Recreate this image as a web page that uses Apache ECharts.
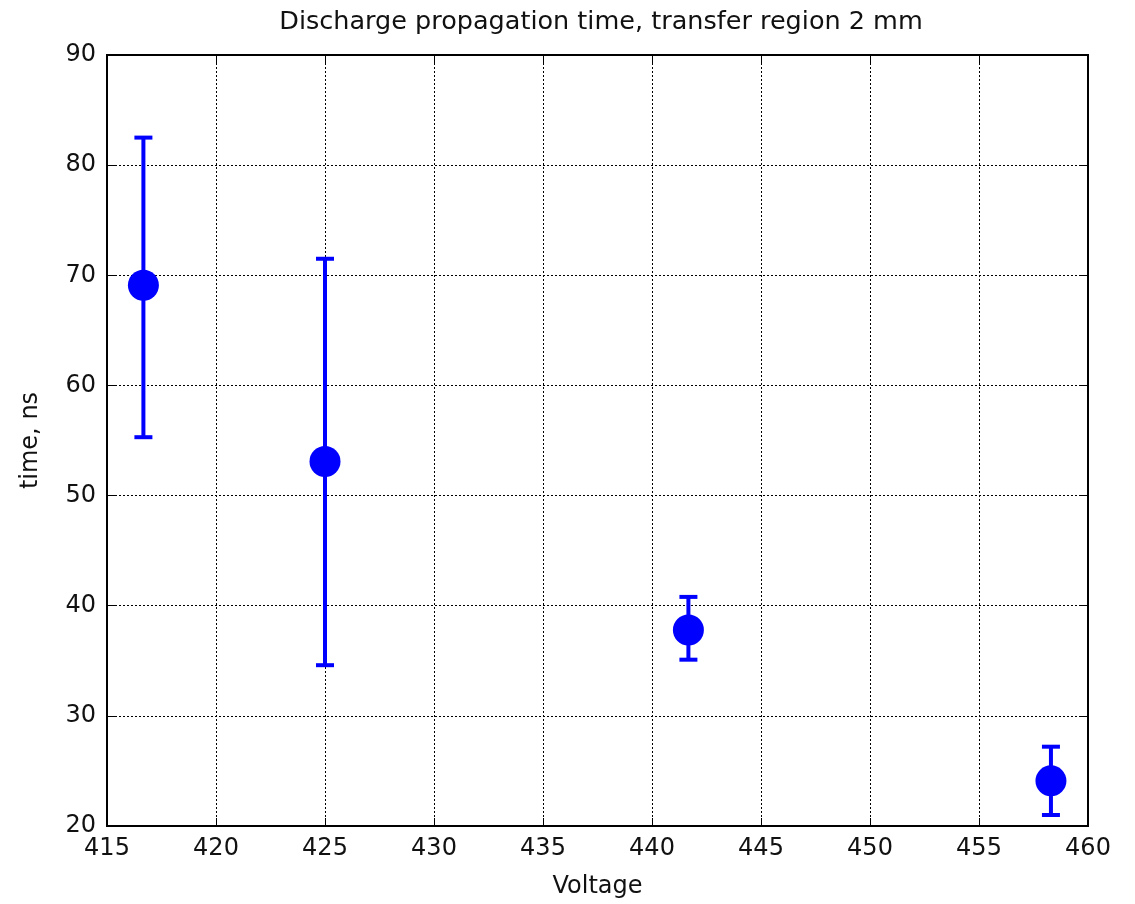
<!DOCTYPE html>
<html>
<head>
<meta charset="utf-8">
<script src="https://cdn.jsdelivr.net/npm/echarts@6/dist/echarts.min.js"></script>
<style>html,body{margin:0;padding:0;background:#fff}#c{width:1135px;height:904px}</style>
</head>
<body>
<div id="c"></div>
<script>
const voltage = [416.67, 425.0, 441.67, 458.3];
const timeNs = [69.1, 53.1, 37.8, 24.1];
const errLow = [55.3, 34.6, 35.1, 21.0];
const errHigh = [82.5, 71.5, 40.8, 27.2];
const xTicks = [415, 420, 425, 430, 435, 440, 445, 450, 455, 460];
const yTicks = [20, 30, 40, 50, 60, 70, 80, 90];

const chart = echarts.init(document.getElementById('c'));
const font = 'DejaVu Sans, sans-serif';
const pts = voltage.map((v, i) => [v, timeNs[i]]);
const errs = voltage.map((v, i) => [v, errLow[i], errHigh[i]]);

chart.setOption({
  animation: false,
  backgroundColor: '#fff',
  title: {
    text: 'Discharge propagation time, transfer region 2 mm',
    left: 596, top: 4, textAlign: 'center',
    textStyle: { fontFamily: font, fontSize: 25.5, fontWeight: 'normal', color: '#111' }
  },
  grid: { left: 107, right: 47, top: 55, bottom: 77, show: true, borderColor: '#000', borderWidth: 2, backgroundColor: 'transparent' },
  xAxis: [{
    type: 'value', min: xTicks[0], max: xTicks[xTicks.length - 1], interval: 5,
    name: 'Voltage', nameLocation: 'middle', nameGap: 49,
    nameTextStyle: { fontFamily: font, fontSize: 24, color: '#111' },
    axisLine: { show: true, lineStyle: { color: '#000', width: 2 } },
    axisTick: { show: true, inside: true, length: 8, lineStyle: { color: '#000', width: 1 } },
    axisLabel: { fontFamily: font, fontSize: 24, color: '#111', margin: 11 },
    splitLine: { show: true, lineStyle: { color: '#000', type: [2, 2], width: 1 } }
  }, {
    type: 'value', position: 'top', min: xTicks[0], max: xTicks[xTicks.length - 1], interval: 5,
    axisLine: { show: true, lineStyle: { color: '#000', width: 2 } },
    axisTick: { show: true, inside: true, length: 8, lineStyle: { color: '#000', width: 1 } },
    axisLabel: { show: false }, splitLine: { show: false }
  }],
  yAxis: [{
    type: 'value', min: yTicks[0], max: yTicks[yTicks.length - 1], interval: 10,
    name: 'time, ns', nameLocation: 'middle', nameGap: 64, nameRotate: 90,
    nameTextStyle: { fontFamily: font, fontSize: 24, color: '#111' },
    axisLine: { show: true, lineStyle: { color: '#000', width: 2 } },
    axisTick: { show: true, inside: true, length: 8, lineStyle: { color: '#000', width: 1 } },
    axisLabel: { fontFamily: font, fontSize: 24, color: '#111', margin: 11 },
    splitLine: { show: true, lineStyle: { color: '#000', type: [2, 2], width: 1 } }
  }, {
    type: 'value', position: 'right', min: yTicks[0], max: yTicks[yTicks.length - 1], interval: 10,
    axisLine: { show: true, lineStyle: { color: '#000', width: 2 } },
    axisTick: { show: true, inside: true, length: 8, lineStyle: { color: '#000', width: 1 } },
    axisLabel: { show: false }, splitLine: { show: false }
  }],
  series: [{
    type: 'custom',
    data: errs,
    z: 3,
    renderItem: function (params, api) {
      const x = api.value(0);
      const lo = api.coord([x, api.value(1)]);
      const hi = api.coord([x, api.value(2)]);
      const hw = 9;
      const st = { stroke: '#0000ff', lineWidth: 4 };
      return {
        type: 'group',
        children: [
          { type: 'line', shape: { x1: lo[0], y1: lo[1], x2: hi[0], y2: hi[1] }, style: st },
          { type: 'line', shape: { x1: lo[0] - hw, y1: lo[1], x2: lo[0] + hw, y2: lo[1] }, style: st },
          { type: 'line', shape: { x1: hi[0] - hw, y1: hi[1], x2: hi[0] + hw, y2: hi[1] }, style: st }
        ]
      };
    }
  }, {
    type: 'scatter',
    data: pts,
    z: 4,
    symbol: 'circle',
    symbolSize: 31,
    itemStyle: { color: '#0000ff', opacity: 1 }
  }]
});
</script>
</body>
</html>
